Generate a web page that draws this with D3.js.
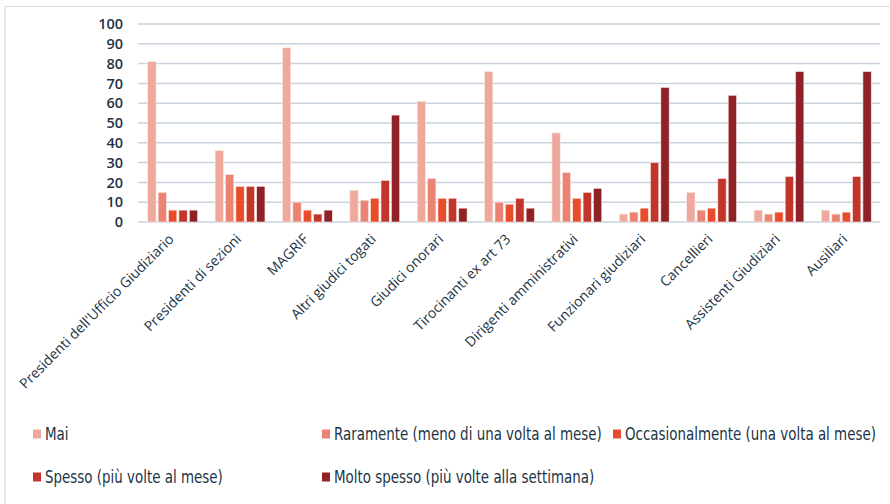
<!DOCTYPE html>
<html>
<head>
<meta charset="utf-8">
<script src="https://cdn.jsdelivr.net/npm/d3@7"></script>
<style>
  html, body { margin: 0; padding: 0; background: #fff; }
  svg { display: block; }
</style>
</head>
<body>
<div id="chart"></div>
<script>
// categories and series
const categories = [
    "Presidenti dell'Ufficio Giudiziario",
    "Presidenti di sezioni",
    "MAGRIF",
    "Altri giudici togati",
    "Giudici onorari",
    "Tirocinanti ex art 73",
    "Dirigenti amministrativi",
    "Funzionari giudiziari",
    "Cancellieri",
    "Assistenti Giudiziari",
    "Ausiliari"
];
const seriesNames = [
    "Mai",
    "Raramente (meno di una volta al mese)",
    "Occasionalmente (una volta al mese)",
    "Spesso (più volte al mese)",
    "Molto spesso (più volte alla settimana)"
];
const mai           = [81, 36, 88, 16, 61, 76, 45, 4, 15, 6, 6];
const raramente     = [15, 24, 10, 11, 22, 10, 25, 5, 6, 4, 4];
const occasional    = [6, 18, 6, 12, 12, 9, 12, 7, 7, 5, 5];
const spesso        = [6, 18, 4, 21, 12, 12, 15, 30, 22, 23, 23];
const moltoSpesso   = [6, 18, 6, 54, 7, 7, 17, 68, 64, 76, 76];
const yTicks = [0, 10, 20, 30, 40, 50, 60, 70, 80, 90, 100];
const colors = ["#efa89c", "#ea8372", "#e84c2a", "#c1352a", "#8e2226"];

const allSeries = [mai, raramente, occasional, spesso, moltoSpesso];

const W = 890, H = 504;
const svg = d3.select("#chart").append("svg")
    .attr("width", W)
    .attr("height", H);

// frame (top and left edges)
svg.append("line")
    .attr("x1", 5).attr("x2", W).attr("y1", 6.5).attr("y2", 6.5)
    .attr("stroke", "#d6dde4").attr("stroke-width", 1.2);
svg.append("line")
    .attr("x1", 5).attr("x2", 5).attr("y1", 6.5).attr("y2", H)
    .attr("stroke", "#d6dde4").attr("stroke-width", 1.2);

const x0 = d3.scaleBand()
    .domain(categories)
    .range([139, 880])
    .paddingInner(0.26)
    .paddingOuter(0.13);

const x1 = d3.scaleBand()
    .domain(d3.range(seriesNames.length))
    .range([0, x0.bandwidth()])
    .paddingInner(0.2);

const y = d3.scaleLinear()
    .domain([0, 100])
    .range([222, 24]);

// gridlines
svg.append("g")
    .selectAll("line")
    .data(yTicks)
    .join("line")
    .attr("x1", 138)
    .attr("x2", 880)
    .attr("y1", d => y(d))
    .attr("y2", d => y(d))
    .attr("stroke", "#c9d3dd")
    .attr("stroke-width", 1.5);

// y axis labels
const yAxis = svg.append("g")
    .attr("transform", "translate(138,0)")
    .call(d3.axisLeft(y).tickValues(yTicks).tickSize(0).tickPadding(15));
yAxis.select(".domain").remove();
yAxis.selectAll("text")
    .attr("font-family", "'Open Sans', sans-serif")
    .attr("font-weight", 600)
    .attr("font-size", "14.5px")
    .attr("fill", "#1d3446");

// bars
const groups = svg.append("g")
    .selectAll("g")
    .data(categories)
    .join("g")
    .attr("transform", d => `translate(${x0(d)},0)`);

groups.selectAll("rect")
    .data((d, i) => allSeries.map((s, k) => ({ k: k, v: s[i] })))
    .join("rect")
    .attr("x", d => x1(d.k))
    .attr("y", d => y(d.v))
    .attr("width", x1.bandwidth())
    .attr("height", d => y(0) - y(d.v))
    .attr("fill", d => colors[d.k])
    .attr("stroke", "#fbe9e6")
    .attr("stroke-width", 0.6);

// category labels, rotated
const xAxis = svg.append("g")
    .attr("transform", "translate(0,222)")
    .call(d3.axisBottom(x0).tickSize(0).tickPadding(0));
xAxis.select(".domain").remove();
xAxis.selectAll("text")
    .attr("font-family", "'Open Sans', sans-serif")
    .attr("font-size", "14px")
    .attr("fill", "#1d3446")
    .attr("text-anchor", "end")
    .attr("dy", 0)
    .attr("transform", "translate(2,18) rotate(-45)");

// legend
const legendItems = [
    { x: 33, y: 434 },
    { x: 322, y: 434 },
    { x: 613, y: 434 },
    { x: 33, y: 477 },
    { x: 322, y: 477 }
];
const legend = svg.append("g")
    .selectAll("g")
    .data(seriesNames)
    .join("g")
    .attr("transform", (d, i) => `translate(${legendItems[i].x},${legendItems[i].y})`);

legend.append("rect")
    .attr("x", 0)
    .attr("y", -4.5)
    .attr("width", 8)
    .attr("height", 9)
    .attr("fill", (d, i) => colors[i]);

const legendText = legend.append("text")
    .attr("x", 0)
    .attr("y", 0)
    .attr("dy", "0.35em")
    .attr("font-family", "'DejaVu Sans Condensed', 'DejaVu Sans', sans-serif")
    .attr("font-size", "17px")
    .attr("fill", "#1d3446")
    .text(d => d);

// squeeze legend text horizontally so "Raramente ..." spans about 268px, like the reference
const measured = legendText.nodes()[1].getComputedTextLength();
const sx = 268 / measured;
legendText.attr("transform", `translate(12,0) scale(${sx},1)`);
</script>
</body>
</html>
